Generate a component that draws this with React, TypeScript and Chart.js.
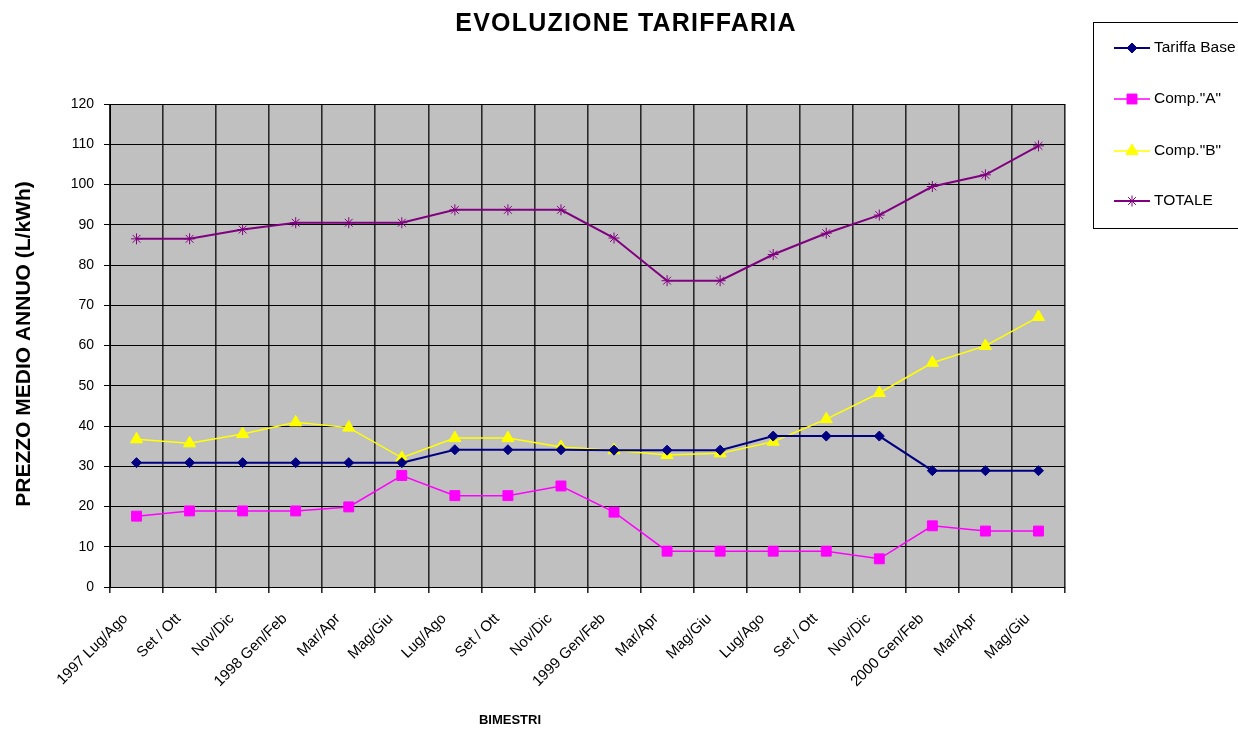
import React, { useEffect, useRef } from 'react';
import { Chart, registerables } from 'chart.js';
import { drawPoint } from 'chart.js/helpers';
Chart.register(...registerables);

const chartTitle = 'EVOLUZIONE TARIFFARIA';
const yTitle = 'PREZZO MEDIO ANNUO (L/kWh)';
const xTitle = 'BIMESTRI';

const categories = [
  '1997 Lug/Ago', 'Set / Ott', 'Nov/Dic', '1998 Gen/Feb', 'Mar/Apr', 'Mag/Giu',
  'Lug/Ago', 'Set / Ott', 'Nov/Dic', '1999 Gen/Feb', 'Mar/Apr', 'Mag/Giu',
  'Lug/Ago', 'Set / Ott', 'Nov/Dic', '2000 Gen/Feb', 'Mar/Apr', 'Mag/Giu',
];
const seriesNames = ['Tariffa Base', 'Comp."A"', 'Comp."B"', 'TOTALE'];
const tariffaBase = [30.9, 30.9, 30.9, 30.9, 30.9, 30.9, 34.1, 34.1, 34.1, 34.0, 34.0, 34.0, 37.5, 37.5, 37.5, 28.9, 28.9, 28.9];
const compA = [17.6, 18.9, 18.9, 18.9, 19.9, 27.7, 22.7, 22.7, 25.1, 18.6, 8.9, 8.9, 8.9, 8.9, 7.0, 15.2, 13.9, 13.9];
const compB = [36.7, 35.7, 38.0, 40.9, 39.6, 32.1, 37.0, 37.0, 34.8, 34.0, 32.8, 33.2, 36.1, 41.7, 48.2, 55.7, 59.9, 67.1];
const totale = [86.5, 86.5, 88.8, 90.5, 90.5, 90.5, 93.7, 93.7, 93.7, 86.7, 76.1, 76.1, 82.6, 87.9, 92.4, 99.5, 102.4, 109.6];
const yMin = 0;
const yMax = 120;
const yStep = 10;

const FONT = '"Liberation Sans", Arial, sans-serif';

const customPlugin = {
  id: 'custom',
  beforeDraw(chart: any) {
    const { ctx, chartArea } = chart;
    const { left, top, right, bottom } = chartArea;
    ctx.save();
    ctx.fillStyle = '#ffffff';
    ctx.fillRect(0, 0, chart.width, chart.height);
    ctx.fillStyle = '#C0C0C0';
    ctx.fillRect(left, top, right - left, bottom - top);
    ctx.restore();
  },
  afterDraw(chart: any) {
    const { ctx } = chart;
    ctx.save();
    ctx.fillStyle = '#000';
    ctx.textAlign = 'center';
    ctx.textBaseline = 'middle';
    ctx.font = `bold 25px ${FONT}`;
    try { (ctx as any).letterSpacing = '1.2px'; } catch (e) {}
    ctx.fillText(chartTitle, 626, 24);
    try { (ctx as any).letterSpacing = '0px'; } catch (e) {}
    ctx.font = `bold 13px ${FONT}`;
    ctx.fillText(xTitle, 510, 720);
    ctx.save();
    ctx.translate(24, 344);
    ctx.rotate(-Math.PI / 2);
    ctx.font = `bold 21px ${FONT}`;
    ctx.fillText(yTitle, 0, 0);
    ctx.restore();

    // legend
    ctx.strokeStyle = '#000';
    ctx.lineWidth = 1;
    ctx.strokeRect(1093.5, 22.5, 300, 206);
    const ys = [48, 99, 151, 201];
    chart.data.datasets.forEach((ds: any, i: number) => {
      const y = ys[i];
      ctx.strokeStyle = ds.borderColor;
      ctx.lineWidth = ds.borderWidth;
      ctx.beginPath();
      ctx.moveTo(1114, y);
      ctx.lineTo(1150, y);
      ctx.stroke();
      ctx.fillStyle = ds.pointBackgroundColor;
      ctx.strokeStyle = ds.pointBorderColor;
      ctx.lineWidth = 1;
      drawPoint(ctx, { pointStyle: ds.pointStyle, radius: ds.pointRadius, rotation: 0, borderWidth: 1 } as any, 1132, y);
      ctx.fillStyle = '#000';
      ctx.textAlign = 'left';
      ctx.textBaseline = 'middle';
      ctx.font = `15.5px ${FONT}`;
      ctx.fillText(ds.label, 1154, y);
    });
    ctx.restore();
  },
};

export default function App() {
  const ref = useRef<HTMLCanvasElement | null>(null);
  useEffect(() => {
    document.body.style.margin = '0';
    const canvas = ref.current;
    if (!canvas) return;
    Chart.defaults.font.family = FONT;
    const mk = (label: string, data: number[], color: string, style: string, r: number, bw: number) => ({
      label,
      data,
      borderColor: color,
      backgroundColor: color,
      pointBackgroundColor: color,
      pointBorderColor: color,
      pointStyle: style,
      pointRadius: r,
      pointHoverRadius: r,
      pointBorderWidth: 1,
      borderWidth: bw,
      tension: 0,
      fill: false,
    });
    const chart = new Chart(canvas, {
      type: 'line',
      data: {
        labels: categories,
        datasets: [
          mk(seriesNames[0], tariffaBase, '#000080', 'rectRot', 5, 2),
          mk(seriesNames[1], compA, '#FF00FF', 'rect', 7, 1.5),
          mk(seriesNames[2], compB, '#FFFF00', 'triangle', 7, 1.5),
          mk(seriesNames[3], totale, '#800080', 'star', 5.5, 2),
        ] as any,
      },
      plugins: [customPlugin],
      options: {
        animation: false,
        responsive: false,
        devicePixelRatio: 1,
        layout: { padding: { top: 104, right: 173, left: 0, bottom: 0 } },
        plugins: { legend: { display: false }, title: { display: false }, tooltip: { enabled: false } },
        scales: {
          x: {
            offset: true,
            grid: { offset: true, color: '#2a2a2a', lineWidth: 1.6, tickLength: 6, drawTicks: true },
            border: { color: '#000', width: 1 },
            ticks: {
              autoSkip: false,
              minRotation: 45,
              maxRotation: 45,
              color: '#000',
              font: { size: 15, family: FONT },
              padding: 17,
              labelOffset: -11,
            },
            afterFit: (s: any) => { s.height = 143; },
          },
          y: {
            min: yMin,
            max: yMax,
            grid: { color: '#000', lineWidth: 1, tickLength: 6 },
            border: { color: '#000', width: 1 },
            ticks: { stepSize: yStep, color: '#000', font: { size: 14, family: FONT }, padding: 10 },
            afterFit: (s: any) => { s.width = 110; },
          },
        },
      } as any,
    });
    return () => chart.destroy();
  }, []);
  return (
    <div style={{ position: 'absolute', left: 0, top: 0, width: 1238, height: 730 }}>
      <canvas ref={ref} width={1238} height={730} />
    </div>
  );
}
